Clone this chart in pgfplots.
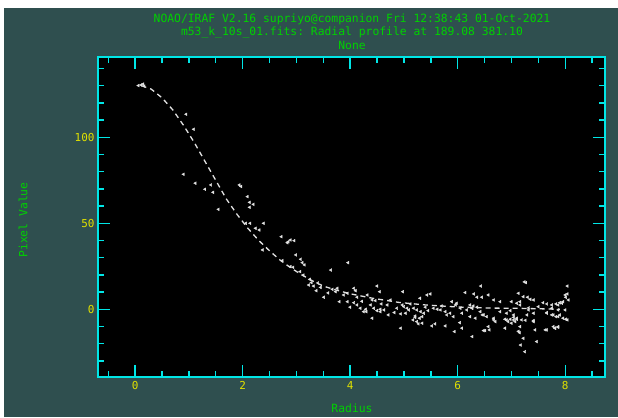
\documentclass[border=0pt]{standalone}
\usepackage{pgfplots}
\pgfplotsset{compat=1.18}
\usepackage{fontspec}
\setmonofont{DejaVu Sans Mono}
\definecolor{bgslate}{RGB}{47,79,79}
\definecolor{frcyan}{RGB}{0,230,230}
\definecolor{lblyellow}{RGB}{225,225,0}
\definecolor{txtgreen}{RGB}{0,210,0}
\definecolor{ptwhite}{RGB}{225,225,225}
\begin{document}
\begin{tikzpicture}[x=1bp,y=1bp]
\fill[white] (0,0) rectangle (618,417);
\fill[bgslate] (4,0) rectangle (618,409);
\begin{axis}[
  at={(98bp,40bp)}, anchor=south west,
  scale only axis, width=507bp, height=320bp,
  xmin=-0.69, xmax=8.74, ymin=-39.4, ymax=146.7,
  axis background/.style={fill=black},
  axis line style={frcyan, line width=1.6bp},
  xtick={0,2,4,6,8}, minor xtick={-0.5,0.5,1,1.5,2.5,3,3.5,4.5,5,5.5,6.5,7,7.5,8.5},
  ytick={0,50,100}, minor ytick={-30,-20,-10,10,20,30,40,60,70,80,90,110,120,130,140},
  tick style={frcyan, line width=1.4bp},
  major tick length=12bp, minor tick length=6bp,
  tick align=inside,
  xticklabel style={lblyellow, font=\ttfamily\fontsize{11}{13}\selectfont, yshift=-1bp},
  yticklabel style={lblyellow, font=\ttfamily\fontsize{11}{13}\selectfont},
  /pgf/number format/assume math mode=true,
  clip=true,
]
\addplot[color=ptwhite, line width=1.3bp, dash pattern=on 5bp off 4bp] coordinates {
(0.12,130) (0.3,128) (0.5,123) (0.7,116) (0.9,107) (1.1,97) (1.3,86) (1.5,75)
(1.7,64) (1.9,55) (2.1,47) (2.3,40) (2.5,34) (2.7,28.5) (2.9,24) (3.1,20)
(3.3,16.5) (3.5,13.5) (3.7,11.5) (4.0,9) (4.4,6.5) (4.9,4) (5.4,2.5) (6.0,1.3)
(6.6,0.7) (7.2,0.5) (7.9,0)
};
\addplot[only marks, mark=triangle*, mark size=1.6bp, color=ptwhite, mark options={rotate=90}] table {
x y
0.11 130.4
0.06 130.1
0.15 131
0.17 129.8
0.95 113.4
1.09 104.7
0.90 78.5
1.12 73.3
1.30 69.8
1.41 72.3
1.45 68
1.55 58.1
1.94 72.3
1.97 71.4
2.09 65.5
2.13 62.2
2.20 61
2.13 59.3
2.06 50
2.14 50
2.39 50
2.24 47.1
2.31 46.1
2.72 42.2
2.85 39.3
2.89 40.3
2.96 39.9
2.83 38.7
2.37 34.5
2.99 31.6
3.08 29.1
3.11 27.1
3.15 25.8
2.74 28.3
2.89 24.8
2.94 24.4
3.07 21.9
3.13 19.9
3.25 17.4
3.28 15.5
3.32 13.5
3.23 14.1
3.64 22.8
3.96 27.1
3.67 11.6
3.76 12.2
3.73 10.2
3.51 7
4.07 12.2
4.10 10.8
3.95 9.3
4.13 7
4.07 3.8
3.95 4.4
3.40 15.3
3.45 12.7
4.50 13.5
4.32 8.3
4.41 5.4
4.47 5
4.55 10.2
4.98 10.2
5.43 8.3
5.49 8.9
6.14 9.7
6.30 8.9
6.36 7
6.45 7
6.57 8.3
6.43 13.5
6.67 5.4
6.79 4.4
7.13 9.3
7.27 15.5
7.24 15.9
7.22 7.3
7.30 7
7.35 5.8
7.41 5.4
7.16 4.4
7.59 3.8
7.66 3.1
7.75 2.5
7.83 3.1
7.90 3.8
8.04 13.5
8.00 8.3
8.04 8.9
8.01 7
8.06 5.4
7.96 4.4
7.94 3.5
7.87 2.5
4.94 -11
5.17 -6.2
5.21 -4.7
5.29 -5.2
5.24 -7.2
5.34 -8.1
5.27 -8.5
5.52 -9.7
5.58 -8.5
5.77 -9.7
5.94 -13
6.08 -11
6.04 -7.8
6.27 -15.9
6.48 -12.4
6.59 -12
6.67 -6.2
6.91 -6.2
6.98 -5.8
7.04 -4.7
7.07 -7.2
7.10 -5.8
6.88 -11
7.16 -10.1
7.15 -13.6
7.22 -16.9
7.17 -20.8
7.25 -24.7
7.47 -18.8
7.44 -12
7.41 -6.6
7.63 -12
7.78 -10.1
7.87 -10.5
7.81 -11
8.01 -5.8
7.66 -2.3
7.75 -3.3
7.83 -4.3
7.90 -3.3
7.32 -0.4
7.41 -2.3
7.29 -3.3
7.19 -6.2
6.91 -2.3
7.04 -3.3
6.98 -0.8
6.79 -1.4
6.42 -1.4
6.48 -3.3
6.54 -4.3
6.23 -4.3
6.33 -5.2
6.08 -2.3
6.17 -0.4
6.27 0.6
6.05 0.6
5.96 2.5
5.68 -0.4
5.77 -1.4
5.86 -2.3
5.80 -3.3
5.92 -4.3
5.55 0.6
5.62 0
5.18 0.6
5.24 -0.4
5.31 -1.4
5.37 -2.3
5.34 -4.3
5.21 -3.9
5.00 1.5
5.06 0.6
5.09 -0.4
5.03 -2.3
4.94 -2.7
4.87 0.6
4.97 2.5
4.75 5.4
4.69 2.5
4.63 -0.4
4.56 0
4.38 2.5
4.44 0.6
4.50 -0.8
4.56 -1.4
4.19 0.6
4.29 0
4.13 2.5
4.25 -1.4
4.41 -5.2
4.30 -1.4
5.89 4.4
5.98 3.5
6.23 2.5
6.29 1.9
6.27 0.6
6.36 1.2
6.46 -3.3
6.67 -5.2
6.70 -7.2
6.88 -5.8
6.94 -7.2
7.04 -6.2
7.00 -8.1
7.10 -5.2
7.26 -6.4
7.41 -7.2
6.51 -12.4
6.57 -10.1
7.13 -12.8
7.66 -12
7.81 -11
7.87 -10.1
7.66 -1.9
7.78 -3.3
7.87 -4.3
7.96 -5.2
8.00 -0.4
8.04 -6.2
7.75 0.6
7.87 -0.4
7.00 4.4
7.10 3.5
7.16 2.5
7.32 0.8
7.50 1.5
4.71 -3.3
4.58 3.1
4.82 -1.9
5.12 3.1
5.40 1.2
5.45 -0.8
5.70 1.9
5.30 6.4
3.88 8.3
3.80 4.4
4.00 1.2
4.22 4.6
3.59 9.5
3.37 10.8
};
\end{axis}
\node[txtgreen, font=\ttfamily\fontsize{11.4}{13}\selectfont] at (352,398) {NOAO/IRAF V2.16 supriyo@companion Fri 12:38:43 01-Oct-2021};
\node[txtgreen, font=\ttfamily\fontsize{11.4}{13}\selectfont] at (352,385) {m53\_k\_10s\_01.fits: Radial profile at 189.08 381.10};
\node[txtgreen, font=\ttfamily\fontsize{11.4}{13}\selectfont] at (352,372) {None};
\node[txtgreen, font=\ttfamily\fontsize{11.4}{13}\selectfont] at (352,9) {Radius};
\node[txtgreen, font=\ttfamily\fontsize{11.4}{13}\selectfont, rotate=90] at (23,197) {Pixel Value};
\end{tikzpicture}
\end{document}
